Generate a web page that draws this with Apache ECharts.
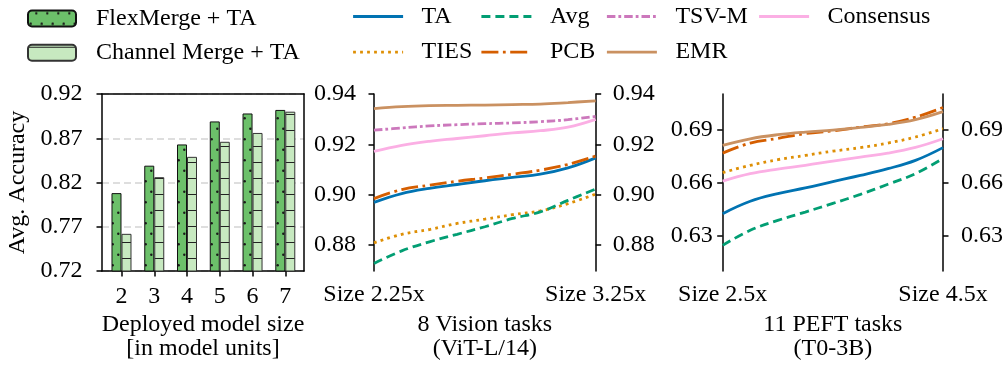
<!DOCTYPE html>
<html>
<head>
<meta charset="utf-8">
<script src="https://cdn.jsdelivr.net/npm/echarts@6/dist/echarts.min.js"></script>
<style>
html,body{margin:0;padding:0;background:#fff;}
#chart{width:1006px;height:370px;}
</style>
</head>
<body>
<div id="chart"></div>
<script>
// ---- data ----
const barSizes = [2, 3, 4, 5, 6, 7];
const flexMerge = [0.808, 0.839, 0.863, 0.889, 0.898, 0.902];
const channelMerge = [0.762, 0.826, 0.849, 0.866, 0.876, 0.900];
const barYTicks = [0.72, 0.77, 0.82, 0.87, 0.92];

const visionSizes = [2.25, 2.375, 2.5, 2.625, 2.75, 2.875, 3.0, 3.125, 3.25];
const visionXTicks = [2.25, 3.25];
const visionYTicks = [0.88, 0.90, 0.92, 0.94];
const visionTA = [0.8969, 0.9004, 0.9025, 0.9040, 0.9055, 0.9068, 0.9081, 0.9106, 0.9146];
const visionTIES = [0.8808, 0.8842, 0.8861, 0.8885, 0.8902, 0.8920, 0.8935, 0.8964, 0.9002];
const visionAvg = [0.8726, 0.8776, 0.8812, 0.8842, 0.8872, 0.8905, 0.8931, 0.8977, 0.9022];
const visionPCB = [0.8984, 0.9020, 0.9037, 0.9053, 0.9066, 0.9081, 0.9097, 0.9120, 0.9153];
const visionTSVM = [0.9256, 0.9265, 0.9273, 0.9278, 0.9282, 0.9285, 0.9290, 0.9298, 0.9311];
const visionEMR = [0.9342, 0.9350, 0.9354, 0.9355, 0.9356, 0.9358, 0.9360, 0.9366, 0.9373];
const visionConsensus = [0.9172, 0.9196, 0.9212, 0.9223, 0.9234, 0.9245, 0.9254, 0.9268, 0.9299];

const peftSizes = [2.5, 2.75, 3.0, 3.25, 3.5, 3.75, 4.0, 4.25, 4.5];
const peftXTicks = [2.5, 4.5];
const peftYTicks = [0.63, 0.66, 0.69];
const peftTA = [0.6424, 0.6494, 0.6537, 0.6569, 0.6605, 0.6640, 0.6678, 0.6725, 0.6797];
const peftTIES = [0.6656, 0.6697, 0.6729, 0.6753, 0.6777, 0.6797, 0.6823, 0.6857, 0.6904];
const peftAvg = [0.6245, 0.6330, 0.6386, 0.6433, 0.6482, 0.6533, 0.6590, 0.6650, 0.6736];
const peftPCB = [0.6766, 0.6823, 0.6849, 0.6876, 0.6892, 0.6913, 0.6932, 0.6969, 0.7024];
const peftEMR = [0.6810, 0.6847, 0.6870, 0.6885, 0.6896, 0.6911, 0.6928, 0.6955, 0.7000];
const peftConsensus = [0.6608, 0.6650, 0.6676, 0.6697, 0.6721, 0.6744, 0.6766, 0.6798, 0.6847];

// ---- styles ----
const FONT = 'Liberation Serif';
const FS = 24;
const LW = 2.8;
const AX = {color: '#000', width: 1.5};

function dotPattern() {
  const c = document.createElement('canvas');
  c.width = 11; c.height = 21;
  const g = c.getContext('2d');
  g.fillStyle = '#6cc06a'; g.fillRect(0, 0, 11, 21);
  g.fillStyle = '#1a1a1a';
  g.beginPath(); g.arc(2.7, 13.3, 1.2, 0, Math.PI * 2); g.fill();
  g.beginPath(); g.arc(8.3, 2.7, 1.2, 0, Math.PI * 2); g.fill();
  return c;
}
function linePattern() {
  const c = document.createElement('canvas');
  c.width = 10; c.height = 16;
  const g = c.getContext('2d');
  g.fillStyle = '#c7e9c0'; g.fillRect(0, 0, 10, 16);
  g.fillStyle = '#222';
  g.fillRect(0, 2, 10, 1);
  return c;
}

const methods = [
  {name: 'TA', color: '#0173b2', dash: 'solid', vision: visionTA, peft: peftTA},
  {name: 'TIES', color: '#de8f05', dash: [2.8, 4.2], vision: visionTIES, peft: peftTIES},
  {name: 'Avg', color: '#029e73', dash: [9, 5], vision: visionAvg, peft: peftAvg},
  {name: 'PCB', color: '#d55e00', dash: [17, 4.5, 2.8, 4.5], vision: visionPCB, peft: peftPCB},
  {name: 'TSV-M', color: '#cc78bc', dash: [8.5, 3, 2.8, 3], vision: visionTSVM, peft: null},
  {name: 'EMR', color: '#ca9161', dash: 'solid', vision: visionEMR, peft: peftEMR},
  {name: 'Consensus', color: '#fbafe4', dash: 'solid', vision: visionConsensus, peft: peftConsensus}
];

function pairs(xs, ys) { return xs.map((x, i) => [x, ys[i]]); }

const series = [];
series.push({
  name: 'FlexMerge + TA', type: 'bar', xAxisIndex: 0, yAxisIndex: 0,
  barWidth: 10, barGap: '0%',
  itemStyle: {color: {image: dotPattern(), repeat: 'repeat'}, borderColor: '#111', borderWidth: 1},
  data: pairs(barSizes, flexMerge)
});
series.push({
  name: 'Channel Merge + TA', type: 'bar', xAxisIndex: 0, yAxisIndex: 0,
  barWidth: 10, barGap: '0%',
  itemStyle: {color: {image: linePattern(), repeat: 'repeat'}, borderColor: '#333', borderWidth: 1},
  data: pairs(barSizes, channelMerge)
});
methods.forEach(m => {
  const ls = {color: m.color, width: LW, type: m.dash, cap: 'butt'};
  series.push({
    name: m.name, type: 'line', xAxisIndex: 1, yAxisIndex: 1,
    symbol: 'none', smooth: 0.4, color: m.color, lineStyle: ls,
    data: pairs(visionSizes, m.vision)
  });
  if (m.peft) {
    series.push({
      name: m.name, type: 'line', xAxisIndex: 2, yAxisIndex: 3,
      symbol: 'none', smooth: 0.4, color: m.color, lineStyle: ls,
      data: pairs(peftSizes, m.peft)
    });
  }
});

const txt = {fontFamily: FONT, fontSize: FS, color: '#000'};

function yAx(grid, pos, min, max, ticks, margin) {
  return {
    gridIndex: grid, type: 'value', position: pos, min: min, max: max,
    axisLine: {show: true, onZero: false, lineStyle: AX},
    axisTick: {show: true, inside: false, length: 5.5, customValues: ticks, lineStyle: AX},
    axisLabel: Object.assign({customValues: ticks, margin: margin, formatter: v => v.toFixed(2)}, txt),
    splitLine: {show: false}
  };
}

function xName(text) {
  return {name: text, nameLocation: 'middle', nameGap: 42,
    nameTextStyle: Object.assign({lineHeight: 24}, txt)};
}

const lineLegend = (data, left) => ({
  data: data, left: left, top: 4.5, orient: 'vertical', padding: 0,
  itemWidth: 50, itemHeight: 14, itemGap: 11.6,
  itemStyle: {opacity: 0},
  lineStyle: {width: LW},
  textStyle: Object.assign({padding: [0, 0, 0, 13.5]}, txt)
});

const option = {
  animation: false,
  backgroundColor: '#fff',
  legend: [
    {
      data: ['FlexMerge + TA', 'Channel Merge + TA'], left: 27, top: 6.5, orient: 'vertical',
      padding: 0, itemWidth: 48, itemHeight: 16, itemGap: 10.2,
      textStyle: Object.assign({padding: [0, 0, 0, 15]}, txt)
    },
    lineLegend(['TA', 'TIES'], 351.7),
    lineLegend(['Avg', 'PCB'], 480),
    lineLegend(['TSV-M', 'EMR'], 605.5),
    lineLegend(['Consensus'], 757.7)
  ],
  grid: [
    {left: 102, top: 94, width: 202, height: 177},
    {left: 374, top: 94, width: 221.7, height: 177},
    {left: 722.7, top: 94, width: 221.3, height: 177}
  ],
  xAxis: [
    Object.assign({
      gridIndex: 0, type: 'value', min: 1.405, max: 7.571,
      axisLine: {show: true, onZero: false, lineStyle: AX},
      axisTick: {show: true, length: 5.5, customValues: barSizes, lineStyle: AX},
      axisLabel: Object.assign({customValues: barSizes, margin: 14}, txt),
      splitLine: {show: false}
    }, xName('Deployed model size\n[in model units]')),
    Object.assign({
      gridIndex: 1, type: 'value', min: visionXTicks[0], max: visionXTicks[1],
      axisLine: {show: false}, axisTick: {show: false},
      axisLabel: Object.assign({customValues: visionXTicks, margin: 12, formatter: v => 'Size ' + v + 'x'}, txt),
      splitLine: {show: false}
    }, xName('8 Vision tasks\n(ViT-L/14)')),
    Object.assign({
      gridIndex: 2, type: 'value', min: peftXTicks[0], max: peftXTicks[1],
      axisLine: {show: false}, axisTick: {show: false},
      axisLabel: Object.assign({customValues: peftXTicks, margin: 12, formatter: v => 'Size ' + v + 'x'}, txt),
      splitLine: {show: false}
    }, xName('11 PEFT tasks\n(T0-3B)')),
    {
      gridIndex: 0, type: 'value', position: 'top', min: 1.405, max: 7.571, z: 5,
      axisLine: {show: true, onZero: false, lineStyle: AX},
      axisTick: {show: false}, axisLabel: {show: false}, splitLine: {show: false}
    }
  ],
  yAxis: [
    {
      gridIndex: 0, type: 'value', position: 'left', min: barYTicks[0], max: barYTicks[4], interval: 0.05,
      axisLine: {show: true, onZero: false, lineStyle: AX},
      axisTick: {show: true, length: 5.5, lineStyle: AX},
      axisLabel: Object.assign({margin: 19.5, formatter: v => v.toFixed(2)}, txt),
      splitLine: {show: true, lineStyle: {color: '#d4d4d4', width: 1.5, type: [7, 4]}},
      name: 'Avg. Accuracy', nameLocation: 'middle', nameGap: 72,
      nameTextStyle: txt
    },
    yAx(1, 'left', 0.8696, 0.94, visionYTicks, 18),
    yAx(1, 'right', 0.8696, 0.94, visionYTicks, 17),
    yAx(2, 'left', 0.61, 0.71, peftYTicks, 10),
    yAx(2, 'right', 0.61, 0.71, peftYTicks, 18),
    {
      gridIndex: 0, type: 'value', position: 'right', min: barYTicks[0], max: barYTicks[4], z: 5,
      axisLine: {show: true, onZero: false, lineStyle: AX},
      axisTick: {show: false}, axisLabel: {show: false}, splitLine: {show: false}
    }
  ],
  series: series
};

const chart = echarts.init(document.getElementById('chart'), null, {renderer: 'canvas'});
chart.setOption(option);
</script>
</body>
</html>
